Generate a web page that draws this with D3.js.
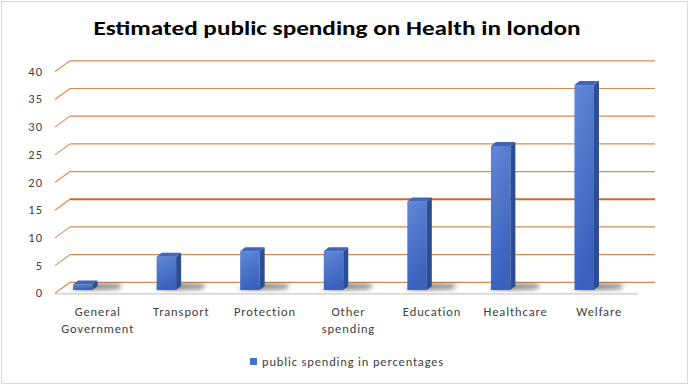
<!DOCTYPE html>
<html>
<head>
<meta charset="utf-8">
<script src="https://cdn.jsdelivr.net/npm/d3@7"></script>
<style>
  body { margin: 0; background: #fff; }
  text { font-family: Carlito, Calibri, "Open Sans", "Liberation Sans", sans-serif; }
</style>
</head>
<body>
<div id="chart"></div>
<script>
// data
const categories = ['General Government', 'Transport', 'Protection', 'Other spending', 'Education', 'Healthcare', 'Welfare'];
const values = [1, 6, 7, 7, 16, 26, 37];
const yTicks = [0, 5, 10, 15, 20, 25, 30, 35, 40];
const seriesName = 'public spending in percentages';

const W = 696, H = 387;
const depthX = 15, depthY = -11;   // floor depth of the 3D box
const barDX = 5, barDY = -4;       // depth of each column

const svg = d3.select('#chart').append('svg')
    .attr('width', W).attr('height', H);

const defs = svg.append('defs');
const grad = defs.append('linearGradient').attr('id', 'barFront')
    .attr('x1', 0).attr('y1', 0).attr('x2', 0.3).attr('y2', 1);
grad.append('stop').attr('offset', '0%').attr('stop-color', '#6287d6');
grad.append('stop').attr('offset', '100%').attr('stop-color', '#3a62bd');
defs.append('filter').attr('id', 'blur').append('feGaussianBlur').attr('stdDeviation', 2.5);

// chart border
svg.append('rect')
    .attr('x', 1.5).attr('y', 1.5).attr('width', 686).attr('height', 382)
    .attr('fill', '#fff').attr('stroke', '#d9d9d9');

// title
svg.append('text')
    .attr('x', 337).attr('y', 35)
    .attr('text-anchor', 'middle')
    .attr('textLength', 487).attr('lengthAdjust', 'spacingAndGlyphs')
    .style('font-size', '21px').style('font-weight', 'bold').style('fill', '#000')
    .text('Estimated public spending on Health in london');

// scales: y for the back wall, x for the front floor edge
const y = d3.scaleLinear().domain([0, 40]).range([282.3, 60.8]);
const x = d3.scaleBand().domain(categories).range([55, 640]);

// floor front edge
svg.append('line')
    .attr('x1', 55).attr('x2', 638)
    .attr('y1', y(0) + 11.5).attr('y2', y(0) + 11.5)
    .attr('stroke', '#d9d9d9').attr('stroke-width', 2);

// gridlines: back wall line + left side diagonal
const grid = svg.append('g').attr('class', 'grid');
yTicks.forEach(t => {
    const yy = y(t);
    grid.append('path')
        .attr('d', `M55,${yy - depthY} L${55 + depthX},${yy}`)
        .attr('fill', 'none')
        .attr('stroke', '#d98a52')
        .attr('stroke-width', 1.1);
    grid.append('line')
        .attr('x1', 55 + depthX).attr('x2', 655)
        .attr('y1', yy).attr('y2', yy)
        .attr('stroke', t === 15 ? '#c86a2a' : '#d98a52')
        .attr('stroke-width', t === 15 ? 1.8 : 1.2);
});

// y tick labels
svg.append('g').selectAll('text')
    .data(yTicks).enter().append('text')
    .attr('x', 43).attr('y', d => y(d) - depthY + 1)
    .attr('text-anchor', 'end')
    .attr('dominant-baseline', 'middle')
    .style('font-size', '12.5px').style('letter-spacing', '1px').style('fill', '#404040')
    .text(d => d);

// bars
const floorY = y(0) + 7.7;
const barW = 19.5;
const barX = d => x(d) + x.bandwidth() / 2 - 14 - barW / 2;
const bars = svg.append('g').attr('class', 'bars');

categories.forEach((c, i) => {
    const x0 = barX(c), x1 = x0 + barW;
    const yt = floorY - (y(0) - y(values[i]));
    const g = bars.append('g');
    // soft shadow on the floor
    g.append('path')
        .attr('d', `M${x0 - 4},${floorY + 1} L${x1 + 26},${floorY - 1} L${x1 + 30},${floorY - 6} L${x1 + 2},${floorY - 7} Z`)
        .attr('fill', '#444').attr('opacity', 0.65)
        .attr('filter', 'url(#blur)');
    // front face
    g.append('rect')
        .attr('x', x0).attr('y', yt)
        .attr('width', barW).attr('height', floorY - yt)
        .attr('fill', 'url(#barFront)');
    // side face
    g.append('path')
        .attr('d', `M${x1},${yt} L${x1 + barDX},${yt + barDY} L${x1 + barDX},${floorY + barDY} L${x1},${floorY} Z`)
        .attr('fill', '#2c4d93');
    // top face
    g.append('path')
        .attr('d', `M${x0},${yt} L${x1},${yt} L${x1 + barDX},${yt + barDY} L${x0 + barDX},${yt + barDY} Z`)
        .attr('fill', '#3f66b8');
    g.append('title').text(`${c}: ${values[i]}`);
});

// category labels (wrap two-word names like the reference)
const labelLines = c => (c === 'General Government' || c === 'Other spending') ? c.split(' ') : [c];
svg.append('g').selectAll('text')
    .data(categories).enter().append('text')
    .attr('y', 316)
    .attr('text-anchor', 'middle')
    .style('font-size', '12.5px').style('letter-spacing', '0.9px').style('fill', '#404040')
    .each(function(d) {
        labelLines(d).forEach((line, k) => {
            d3.select(this).append('tspan')
                .attr('x', x(d) + x.bandwidth() / 2 + 1)
                .attr('dy', k === 0 ? 0 : 17)
                .text(line);
        });
    });

// legend
const lg = svg.append('g').attr('transform', 'translate(250,358)');
lg.append('rect').attr('width', 7).attr('height', 7).attr('fill', '#4472c4');
lg.append('text')
    .attr('x', 12).attr('y', 7.5)
    .style('font-size', '12.5px').style('letter-spacing', '0.85px').style('fill', '#404040')
    .text(seriesName);
</script>
</body>
</html>
